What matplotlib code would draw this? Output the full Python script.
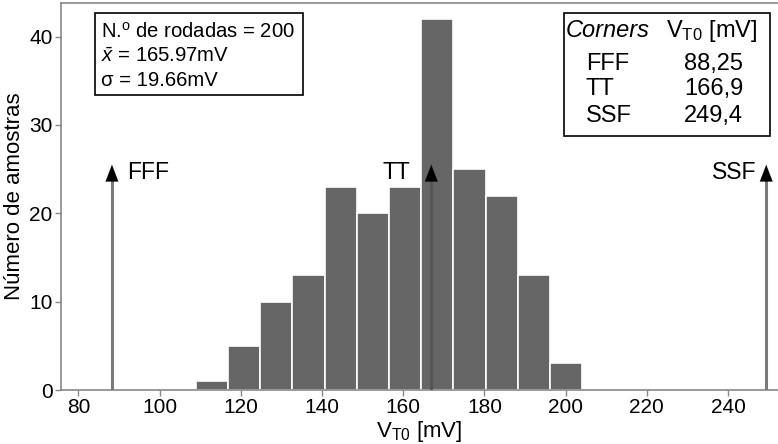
import numpy as np
import matplotlib.pyplot as plt
from matplotlib.patches import Rectangle

plt.rcParams['font.family'] = ['Liberation Sans', 'DejaVu Sans']
plt.rcParams['mathtext.fontset'] = 'custom'
plt.rcParams['mathtext.rm'] = 'Liberation Sans'
plt.rcParams['mathtext.it'] = 'Liberation Sans:italic'

# histogram of V_T0 over 200 Monte Carlo runs
counts = [1, 5, 10, 13, 23, 20, 23, 42, 25, 22, 13, 3]
bin_start = 108.9
bin_width = 7.93

# process corners
corner_names = ['FFF', 'TT', 'SSF']
corner_vals = [88.25, 166.9, 249.4]
corner_labels = ['88,25', '166,9', '249,4']

n_runs = 200
mean_v = 165.97
std_v = 19.66

edges = bin_start + bin_width * np.arange(len(counts) + 1)

fig = plt.figure(figsize=(7.78, 4.44), dpi=100)
ax = fig.add_axes([61 / 778, 1 - 390 / 444, 1 - 61 / 778, 387 / 444])

ax.bar(edges[:-1], counts, width=bin_width, align='edge',
       color='#666666', edgecolor='white', linewidth=1.2, zorder=2)

# corner markers
arrow_top = 25.5
head_base = 23.6
for name, v in zip(corner_names, corner_vals):
    shaft = '#555555' if name == 'TT' else '#7a7a7a'
    ax.plot([v, v], [0, head_base + 0.2], color=shaft, lw=2.2, zorder=3,
            solid_capstyle='butt')
    ax.annotate('', xy=(v, arrow_top), xytext=(v, head_base),
                arrowprops=dict(arrowstyle='-|>,head_length=1.2,head_width=0.46',
                                color='black', lw=0.1, shrinkA=0, shrinkB=0),
                zorder=4)

ax.text(91.9, 24.6, 'FFF', fontsize=16.5, ha='left', va='center')
ax.text(161.6, 24.6, 'TT', fontsize=16.5, ha='right', va='center')
ax.text(247.1, 24.6, 'SSF', fontsize=16.5, ha='right', va='center')

ax.set_xlim(75.7, 252.3)
ax.set_ylim(0, 43.8)
ax.set_xticks(np.arange(80, 241, 20))
ax.set_yticks([0, 10, 20, 30, 40])
ax.tick_params(labelsize=15, color='#888888', length=4, width=1, pad=2)
for side in ['left', 'bottom', 'top']:
    ax.spines[side].set_color('#888888')
    ax.spines[side].set_linewidth(1.2)
ax.spines['right'].set_visible(False)

ax.set_xlabel('V$_\\mathregular{T0}$ [mV]', fontsize=16, labelpad=1)
ax.set_ylabel('Número de amostras', fontsize=16, labelpad=3)


def fx(px):
    return px / 778


def fy(py):
    return 1 - py / 444


# statistics box
fig.patches.append(Rectangle((fx(95), fy(95)), fx(303) - fx(95), fy(13) - fy(95),
                             transform=fig.transFigure, fill=False,
                             edgecolor='black', lw=1.2))
fig.text(fx(101), fy(37.3), 'N.$^\\mathregular{o}$ de rodadas = %d' % n_runs,
         fontsize=14.6, va='baseline')
fig.text(fx(101), fy(62.5), '$\\bar{x}$ = %.2fmV' % mean_v, fontsize=14.6, va='baseline')
fig.text(fx(101), fy(86), 'σ = %.2fmV' % std_v, fontsize=14.6, va='baseline')

# corners table
fig.patches.append(Rectangle((fx(564), fy(136)), fx(770) - fx(564), fy(13) - fy(136),
                             transform=fig.transFigure, fill=False,
                             edgecolor='black', lw=1.2))
fig.text(fx(566), fy(37.3), 'Corners', fontsize=17, style='italic', va='baseline')
fig.text(fx(757), fy(37.3), 'V$_\\mathregular{T0}$ [mV]', fontsize=17, ha='right',
         va='baseline')
row_base = [70, 95, 121.5]
for name, lab, yb in zip(corner_names, corner_labels, row_base):
    fig.text(fx(586), fy(yb), name, fontsize=17, va='baseline')
    fig.text(fx(743), fy(yb), lab, fontsize=17, ha='right', va='baseline')

fig.savefig('out.png', dpi=100)
